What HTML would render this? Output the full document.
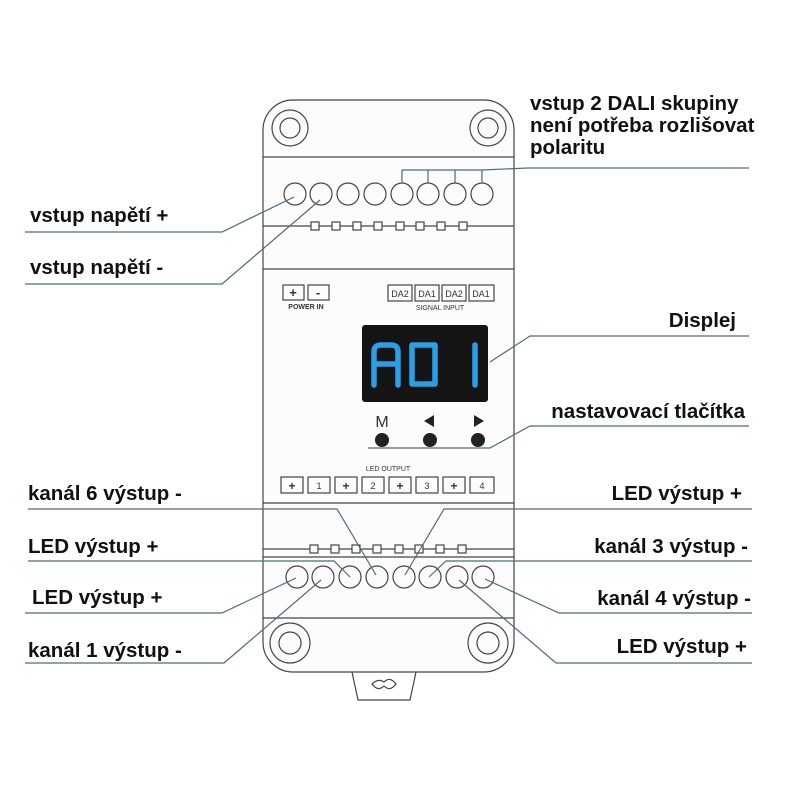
<!DOCTYPE html>
<html><head><meta charset="utf-8"><style>
html,body{margin:0;padding:0;background:#fff;}
svg{display:block}
.l{font-family:"Liberation Sans",sans-serif;font-weight:bold;font-size:20.5px;fill:#111}
.s{font-family:"Liberation Sans",sans-serif;fill:#333}
</style></head><body>
<svg width="800" height="800" viewBox="0 0 800 800" xmlns="http://www.w3.org/2000/svg">
<g fill="none" stroke="#444" stroke-width="1.2">
<path d="M352 672 L358 700 L410 700 L416 672"/>
<path d="M372 684 q6 -6 12 -2 q6 -6 12 2 q-6 8 -12 2 q-6 6 -12 -2z"/>
<rect x="263" y="100" width="251" height="572" rx="30" fill="#fcfcfc"/>
<line x1="263" y1="157" x2="514" y2="157"/>
<line x1="263" y1="226" x2="514" y2="226"/>
<line x1="263" y1="269" x2="514" y2="269"/>
<line x1="263" y1="503" x2="514" y2="503"/>
<line x1="263" y1="549" x2="514" y2="549"/>
<line x1="263" y1="557" x2="514" y2="557"/>
<line x1="263" y1="618" x2="514" y2="618"/>
<circle cx="290" cy="128" r="18"/><circle cx="290" cy="128" r="10"/>
<circle cx="488" cy="128" r="18"/><circle cx="488" cy="128" r="10"/>
<circle cx="290" cy="643" r="20"/><circle cx="290" cy="643" r="11"/>
<circle cx="488" cy="643" r="20"/><circle cx="488" cy="643" r="11"/>
<circle cx="295" cy="194" r="11"/><circle cx="321" cy="194" r="11"/><circle cx="348" cy="194" r="11"/><circle cx="375" cy="194" r="11"/>
<circle cx="402" cy="194" r="11"/><circle cx="428" cy="194" r="11"/><circle cx="455" cy="194" r="11"/><circle cx="482" cy="194" r="11"/>
<g fill="#fff">
<rect x="311" y="222" width="8" height="8"/><rect x="332" y="222" width="8" height="8"/><rect x="353" y="222" width="8" height="8"/><rect x="374" y="222" width="8" height="8"/>
<rect x="396" y="222" width="8" height="8"/><rect x="416" y="222" width="8" height="8"/><rect x="437" y="222" width="8" height="8"/><rect x="459" y="222" width="8" height="8"/>
<rect x="310" y="545" width="8" height="8"/><rect x="331" y="545" width="8" height="8"/><rect x="352" y="545" width="8" height="8"/><rect x="373" y="545" width="8" height="8"/>
<rect x="395" y="545" width="8" height="8"/><rect x="415" y="545" width="8" height="8"/><rect x="436" y="545" width="8" height="8"/><rect x="458" y="545" width="8" height="8"/>
</g>
<circle cx="297" cy="577" r="11"/><circle cx="323" cy="577" r="11"/><circle cx="350" cy="577" r="11"/><circle cx="377" cy="577" r="11"/>
<circle cx="404" cy="577" r="11"/><circle cx="430" cy="577" r="11"/><circle cx="457" cy="577" r="11"/><circle cx="483" cy="577" r="11"/>
<rect x="283" y="285" width="21" height="15"/><rect x="308" y="285" width="21" height="15"/>
<rect x="388" y="285" width="24" height="16"/><rect x="415" y="285" width="24" height="16"/><rect x="442" y="285" width="24" height="16"/><rect x="469" y="285" width="25" height="16"/>
<rect x="281" y="477" width="22" height="16"/><rect x="308" y="477" width="22" height="16"/><rect x="335" y="477" width="22" height="16"/><rect x="362" y="477" width="22" height="16"/>
<rect x="389" y="477" width="22" height="16"/><rect x="416" y="477" width="22" height="16"/><rect x="443" y="477" width="22" height="16"/><rect x="470" y="477" width="24" height="16"/>
</g>
<g class="s" text-anchor="middle">
<text x="293" y="297" font-size="13" font-weight="bold">+</text><text x="318" y="297" font-size="13" font-weight="bold">-</text>
<text x="306" y="309" font-size="7" font-weight="bold">POWER IN</text>
<text x="400" y="297" font-size="9">DA2</text><text x="427" y="297" font-size="9">DA1</text><text x="454" y="297" font-size="9">DA2</text><text x="481" y="297" font-size="9">DA1</text>
<text x="440" y="310" font-size="7">SIGNAL INPUT</text>
<text x="388" y="471" font-size="7">LED OUTPUT</text>
<text x="292" y="490" font-size="12" font-weight="bold">+</text><text x="319" y="489" font-size="9">1</text>
<text x="346" y="490" font-size="12" font-weight="bold">+</text><text x="373" y="489" font-size="9">2</text>
<text x="400" y="490" font-size="12" font-weight="bold">+</text><text x="427" y="489" font-size="9">3</text>
<text x="454" y="490" font-size="12" font-weight="bold">+</text><text x="482" y="489" font-size="9">4</text>
<text x="382" y="427" font-size="16">M</text>
</g>
<path d="M424 421 l10 -6 v12z" fill="#222"/>
<path d="M484 421 l-10 -6 v12z" fill="#222"/>
<circle cx="382" cy="440" r="7" fill="#222"/><circle cx="430" cy="440" r="7" fill="#222"/><circle cx="478" cy="440" r="7" fill="#222"/>
<rect x="362" y="325" width="126" height="77" rx="3" fill="#141414"/>
<g fill="none" stroke="#2a9ee6" stroke-width="5.5" stroke-linecap="round" stroke-linejoin="round">
<path d="M374 385 V352 Q374 345 381 345 H391 Q398 345 398 352 V385 M376 364 H396"/>
<path d="M412 345 H435 V384 H412 Z"/>
<path d="M475 345 V385"/>
</g>
<g fill="none" stroke="#4d6b80" stroke-width="1.2">
<path d="M25 232 H222 L294 197"/>
<path d="M25 284 H222 L320 200"/>
<path d="M749 168 H528 L482 170"/>
<path d="M482 170 V183 M455 170 V183 M428 170 V183 M402 170 V183 M402 170 H482"/>
<path d="M749 336 H530 L490 362"/>
<path d="M749 426 H530 L490 448 H368"/>
<path d="M28 509 H337 L376 575"/>
<path d="M752 509 H444 L405 575"/>
<path d="M28 561 H334 L350 577"/>
<path d="M752 561 H446 L429 577"/>
<path d="M25 613 H222 L296 578"/>
<path d="M752 613 H559 L485 579"/>
<path d="M25 663 H224 L321 580"/>
<path d="M752 663 H556 L459 580"/>
</g>
<g class="l">
<text x="30" y="222">vstup napětí +</text>
<text x="30" y="274">vstup napětí -</text>
<text x="530" y="110">vstup 2 DALI skupiny</text>
<text x="530" y="132">není potřeba rozlišovat</text>
<text x="530" y="154">polaritu</text>
<text x="736" y="327" text-anchor="end">Displej</text>
<text x="745" y="418" text-anchor="end">nastavovací tlačítka</text>
<text x="28" y="500">kanál 6 výstup -</text>
<text x="742" y="500" text-anchor="end">LED výstup +</text>
<text x="28" y="553">LED výstup +</text>
<text x="748" y="553" text-anchor="end">kanál 3 výstup -</text>
<text x="32" y="604">LED výstup +</text>
<text x="751" y="605" text-anchor="end">kanál 4 výstup -</text>
<text x="28" y="657">kanál 1 výstup -</text>
<text x="747" y="653" text-anchor="end">LED výstup +</text>
</g>
</svg>
</body></html>
